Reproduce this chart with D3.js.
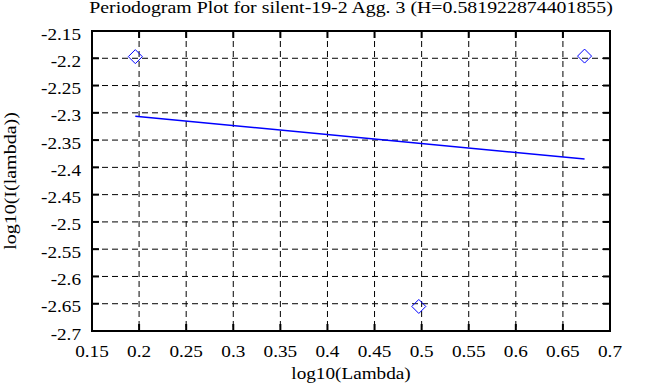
<!DOCTYPE html>
<html>
<head>
<meta charset="utf-8">
<script src="https://cdn.jsdelivr.net/npm/d3@7"></script>
<style>
  body { margin: 0; background: #fff; }
  text { font-family: "Liberation Serif", "Times New Roman", serif; font-size: 16px; fill: #000; }
</style>
</head>
<body>
<div id="chart"></div>
<script>
// values
var xTicks = [0.15, 0.2, 0.25, 0.3, 0.35, 0.4, 0.45, 0.5, 0.55, 0.6, 0.65, 0.7];
var yTicks = [-2.15, -2.2, -2.25, -2.3, -2.35, -2.4, -2.45, -2.5, -2.55, -2.6, -2.65, -2.7];
var pointX = [0.196, 0.497, 0.673];
var pointY = [-2.197, -2.655, -2.196];
var fitX = [0.196, 0.673];
var fitY = [-2.3064, -2.3846];
var title = "Periodogram Plot for silent-19-2 Agg. 3 (H=0.581922874401855)";
var xLabel = "log10(Lambda)";
var yLabel = "log10(I(lambda))";

var width = 663, height = 387;
// plot box (note: "top" is reserved on window, so use pX/pY names)
var pLeft = 92, pRight = 610, pTop = 31, pBottom = 331;
var stretch = 1.2; // glyphs in the original are wide

var x = d3.scaleLinear().domain([0.15, 0.7]).range([pLeft, pRight]);
var y = d3.scaleLinear().domain([-2.7, -2.15]).range([pBottom, pTop]);

var svg = d3.select("#chart").append("svg")
    .attr("width", width)
    .attr("height", height);

svg.append("rect").attr("width", width).attr("height", height).attr("fill", "#fff");

// grid lines (dashed)
var grid = svg.append("g").classed("grid", true);
grid.selectAll("line.gx")
    .data(xTicks.slice(1, -1))
    .enter().append("line")
    .attr("x1", d => x(d)).attr("x2", d => x(d))
    .attr("y1", pTop).attr("y2", pBottom)
    .attr("stroke", "#000").attr("stroke-width", 1).attr("stroke-dasharray", "6,4");
grid.selectAll("line.gy")
    .data(yTicks.slice(1, -1))
    .enter().append("line")
    .attr("x1", pLeft).attr("x2", pRight)
    .attr("y1", d => y(d)).attr("y2", d => y(d))
    .attr("stroke", "#000").attr("stroke-width", 1).attr("stroke-dasharray", "6,4");

// ticks on all four sides, pointing in
var tickLen = 7;
var ticks = svg.append("g").classed("ticks", true).attr("stroke", "#000").attr("stroke-width", 2);
xTicks.forEach(function (d) {
    ticks.append("line").attr("x1", x(d)).attr("x2", x(d)).attr("y1", pBottom).attr("y2", pBottom - tickLen);
    ticks.append("line").attr("x1", x(d)).attr("x2", x(d)).attr("y1", pTop).attr("y2", pTop + tickLen);
});
yTicks.forEach(function (d) {
    ticks.append("line").attr("x1", pLeft).attr("x2", pLeft + tickLen).attr("y1", y(d)).attr("y2", y(d));
    ticks.append("line").attr("x1", pRight).attr("x2", pRight - tickLen).attr("y1", y(d)).attr("y2", y(d));
});

// border
svg.append("rect")
    .attr("x", pLeft).attr("y", pTop)
    .attr("width", pRight - pLeft).attr("height", pBottom - pTop)
    .attr("fill", "none").attr("stroke", "#000").attr("stroke-width", 2);

// tick labels
svg.append("g").selectAll("text")
    .data(xTicks)
    .enter().append("text")
    .attr("transform", d => "translate(" + x(d) + "," + 356.5 + ") scale(" + stretch + ",1)")
    .attr("text-anchor", "middle")
    .text(d => d);
svg.append("g").selectAll("text")
    .data(yTicks)
    .enter().append("text")
    .attr("transform", d => "translate(" + 81 + "," + (y(d) + 8.5) + ") scale(" + stretch + ",1)")
    .attr("text-anchor", "end")
    .text(d => d);

// fitted line
svg.append("path")
    .datum(d3.zip(fitX, fitY))
    .attr("d", d3.line().x(d => x(d[0])).y(d => y(d[1])))
    .attr("fill", "none").attr("stroke", "#0000ff").attr("stroke-width", 1.5);

// data points: open diamonds
var r = 7;
svg.append("g").selectAll("path")
    .data(d3.zip(pointX, pointY))
    .enter().append("path")
    .attr("d", function (d) {
        var cx = x(d[0]), cy = y(d[1]);
        return "M" + cx + "," + (cy - r) + "L" + (cx + r) + "," + cy + "L" + cx + "," + (cy + r) + "L" + (cx - r) + "," + cy + "Z";
    })
    .attr("fill", "none").attr("stroke", "#0000ff").attr("stroke-width", 1);

// titles
var mid = (pLeft + pRight) / 2;
svg.append("text")
    .attr("transform", "translate(" + mid + ",13) scale(1.24,1)")
    .attr("text-anchor", "middle")
    .text(title);
svg.append("text")
    .attr("transform", "translate(" + mid + ",379) scale(" + stretch + ",1)")
    .attr("text-anchor", "middle")
    .text(xLabel);
svg.append("text")
    .attr("transform", "translate(16," + ((pTop + pBottom) / 2) + ") rotate(-90) scale(1.25,1)")
    .attr("text-anchor", "middle")
    .text(yLabel);
</script>
</body>
</html>
